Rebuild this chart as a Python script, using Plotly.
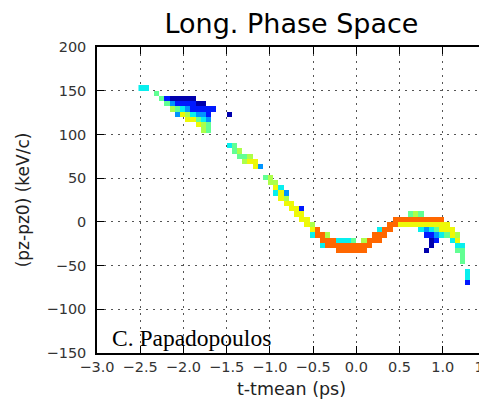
import numpy as np
import plotly.graph_objects as go

# ---------------- data ----------------
# histogram bin size
DT = 0.06      # ps
DPZ = 6.0      # keV/c
T_FIRST, T_LAST = -2.49, 1.35
PZ_FIRST, PZ_LAST = -75.0, 159.0

# each run: column centre t (ps), top cell centre pz (keV/c), levels going down one bin per char
run_t = [
    -2.49, -2.43, -2.31, -2.25, -2.19, -2.13, -2.07, -2.01, -1.95, -1.89,
    -1.83, -1.77, -1.71, -1.65, -1.47,
    -1.47, -1.41, -1.35, -1.29, -1.23, -1.17, -1.11, -1.05, -0.99, -0.93,
    -0.87, -0.81, -0.75, -0.69, -0.63, -0.57, -0.51,
    -0.45, -0.39, -0.33, -0.27, -0.21, -0.15, -0.09, -0.03, 0.03, 0.09,
    0.15, 0.21, 0.27, 0.33, 0.39, 0.45, 0.51, 0.57, 0.63, 0.69,
    0.75, 0.81, 0.87, 0.93, 0.99, 1.05, 1.11, 1.17, 1.23, 1.29,
]
run_pz_top = [
    153, 153, 147, 141, 141, 141, 141, 141, 141, 141,
    135, 135, 129, 129, 123,
    87, 87, 81, 75, 75, 69, 63, 51, 51, 45,
    39, 33, 21, 15, 15, 3, -3,
    -9, -15, -15, -21, -21, -21, -21, -21, -27, -21,
    -21, -15, -9, -9, -3, 3, 3, 3, 9, 9,
    9, 3, 3, 3, 3, -3, -9, -15, -27, -57,
]
run_levels = [
    "3", "3", "4", "4", "14", "025", "0142", "0136", "01256", "01136",
    "01246", "012355", "11244", "1", "0",
    "3", "44", "54", "45", "56", "66", "2", "4", "55", "563",
    "366", "256", "66", "66", "166", "66", "563",
    "77", "773", "577", "77", "377", "377", "377", "477", "77", "577",
    "77", "77", "377", "77", "77", "77", "76", "76", "476", "576",
    "4763", "7621..0", "763100", "76421", "7663", "664", "663", "5634", "3444", "331",
]
# colour level of each character (fraction of the colour map)
level_value = {"0": 0.04, "1": 0.15, "2": 0.27, "3": 0.36, "4": 0.47,
               "5": 0.56, "6": 0.64, "7": 0.80, "8": 0.88}

# ---------------- build the histogram grid ----------------
t_centres = np.round(np.arange(T_FIRST, T_LAST + DT / 2, DT), 3)
pz_centres = np.arange(PZ_FIRST, PZ_LAST + DPZ / 2, DPZ)
z = np.full((len(pz_centres), len(t_centres)), np.nan)
for t, top, lev in zip(run_t, run_pz_top, run_levels):
    ci = int(round((t - T_FIRST) / DT))
    ri = int(round((top - PZ_FIRST) / DPZ))
    for k, ch in enumerate(lev):
        if ch in level_value and 0 <= ri - k < len(pz_centres):
            z[ri - k, ci] = level_value[ch]

# matplotlib "jet"
def jet(v):
    r = np.interp(v, [0, 0.35, 0.66, 0.89, 1], [0, 0, 1, 1, 0.5])
    g = np.interp(v, [0, 0.125, 0.375, 0.64, 0.91, 1], [0, 0, 1, 1, 0, 0])
    b = np.interp(v, [0, 0.11, 0.34, 0.65, 1], [0.5, 1, 1, 0, 0])
    return f"rgb({int(r*255)},{int(g*255)},{int(b*255)})"

jet_scale = [[v, jet(v)] for v in np.linspace(0, 1, 41)]

fig = go.Figure(go.Heatmap(
    x=t_centres, y=pz_centres, z=z, zmin=0, zmax=1,
    colorscale=jet_scale, showscale=False, hoverongaps=False,
))

axis_common = dict(
    showline=True, linecolor="black", linewidth=1.5, mirror="ticks",
    ticks="inside", ticklen=7, tickwidth=1.2, tickcolor="black",
    showgrid=True, gridcolor="#555", gridwidth=1.2, griddash="2px,5px",
    zeroline=False, automargin=False, ticklabeloverflow="allow",
    tickfont=dict(family="DejaVu Sans", size=14.5, color="#333"),
)

# the page body adds an 8 px offset; figure is sized so the plot lands where the reference has it
W, H = 479, 391
ML, MR, MT, MB = 89, 1, 39, 46

fig.update_layout(
    template="none",
    width=W, height=H,
    margin=dict(l=ML, r=MR, t=MT, b=MB),
    paper_bgcolor="white", plot_bgcolor="white",
    title=dict(text="Long. Phase Space", x=0.5, xref="paper", xanchor="center",
               y=1 - 16 / H, yref="container", yanchor="middle",
               font=dict(family="DejaVu Sans", size=27, color="black")),
    xaxis=dict(range=[-3.0, 1.5001], tickvals=[-3.0, -2.5, -2.0, -1.5, -1.0, -0.5, 0.0, 0.5, 1.0, 1.5],
               tickformat=".1f",
               title=dict(text="t-tmean (ps)", standoff=10,
                          font=dict(family="DejaVu Sans", size=17.5, color="#222")),
               **axis_common),
    yaxis=dict(range=[-150, 200], dtick=50, tick0=0,
               ticklabelstandoff=6,
               title=dict(text="(pz-pz0) (keV/c)", standoff=13,
                          font=dict(family="DejaVu Sans", size=17, color="#222")),
               **axis_common),
    annotations=[dict(
        text="C. Papadopoulos", xref="paper", yref="paper",
        x=(110 - 97) / 389, y=(353 - 338) / 306, xanchor="left", yanchor="middle",
        showarrow=False, font=dict(family="Liberation Serif", size=23.5, color="black"),
    )],
)

fig.write_html("out.html")
